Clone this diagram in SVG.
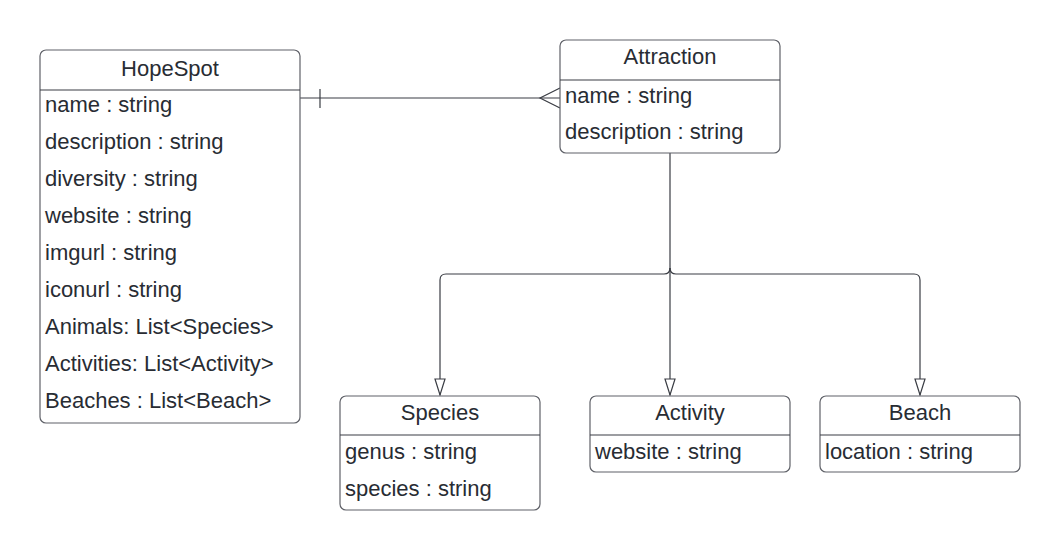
<svg xmlns="http://www.w3.org/2000/svg" width="1060" height="550" viewBox="0 0 1060 550">
<style>
.box{fill:#fff;stroke:#5f6168;stroke-width:1.2}
.div{stroke:#3a3d44;stroke-width:1.2}
text{font-family:"Liberation Sans",Arial,sans-serif;font-size:22px;fill:#282c33;dominant-baseline:central}
.t{text-anchor:middle}
.c{fill:none;stroke:#3a3d44;stroke-width:1.2}
</style>
<defs>
<marker id="tri" markerWidth="20" markerHeight="14" refX="17" refY="6" orient="auto" markerUnits="userSpaceOnUse" viewBox="0 0 20 14">
<path d="M1,1 L17,6 L1,11 Z" fill="#fff" stroke="#3a3d44" stroke-width="1.2"/>
</marker>
</defs>
<rect width="1060" height="550" fill="#fff"/>
<g id="connectors">
<path class="c" d="M300,98 H560"/>
<path class="c" d="M320,89 V108"/>
<path class="c" d="M560,88 L540,98 L560,108"/>
<path class="c" d="M670,153 V268 Q670,274 664,274 H446 Q440,274 440,280 V395" marker-end="url(#tri)"/>
<path class="c" d="M670,268 V395" marker-end="url(#tri)"/>
<path class="c" d="M670,268 Q670,274 676,274 H914 Q920,274 920,280 V395" marker-end="url(#tri)"/>
</g>
<g id="HopeSpot">
<rect class="box" x="40" y="50" width="260" height="373" rx="6"/>
<line class="div" x1="40" y1="90" x2="300" y2="90"/>
<text class="t" x="170" y="68">HopeSpot</text>
<text x="45" y="104">name : string</text>
<text x="45" y="141">description : string</text>
<text x="45" y="178">diversity : string</text>
<text x="45" y="215">website : string</text>
<text x="45" y="252">imgurl : string</text>
<text x="45" y="289">iconurl : string</text>
<text x="45" y="326">Animals: List&lt;Species&gt;</text>
<text x="45" y="363">Activities: List&lt;Activity&gt;</text>
<text x="45" y="400">Beaches : List&lt;Beach&gt;</text>
</g>
<g id="Attraction">
<rect class="box" x="560" y="40" width="220" height="113" rx="6"/>
<line class="div" x1="560" y1="80" x2="780" y2="80"/>
<text class="t" x="670" y="56">Attraction</text>
<text x="565" y="95">name : string</text>
<text x="565" y="131">description : string</text>
</g>
<g id="Species">
<rect class="box" x="340" y="396" width="200" height="114" rx="6"/>
<line class="div" x1="340" y1="435" x2="540" y2="435"/>
<text class="t" x="440" y="412">Species</text>
<text x="345" y="451">genus : string</text>
<text x="345" y="488">species : string</text>
</g>
<g id="Activity">
<rect class="box" x="590" y="396" width="200" height="76" rx="6"/>
<line class="div" x1="590" y1="435" x2="790" y2="435"/>
<text class="t" x="690" y="412">Activity</text>
<text x="595" y="451">website : string</text>
</g>
<g id="Beach">
<rect class="box" x="820" y="396" width="200" height="76" rx="6"/>
<line class="div" x1="820" y1="435" x2="1020" y2="435"/>
<text class="t" x="920" y="412">Beach</text>
<text x="825" y="451">location : string</text>
</g>
</svg>
